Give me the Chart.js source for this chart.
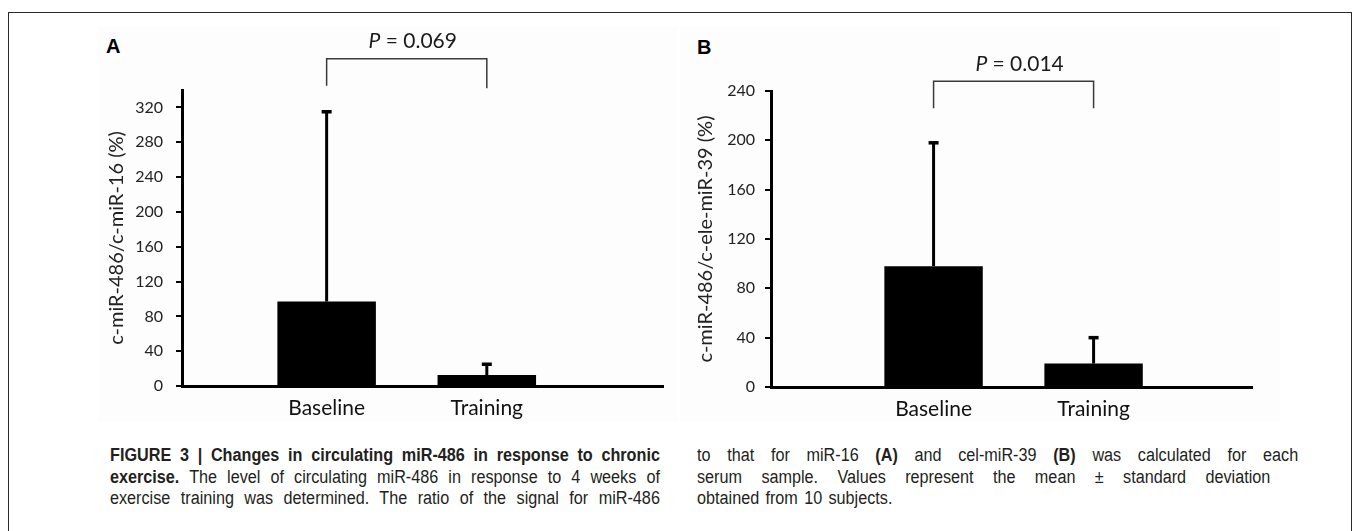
<!DOCTYPE html>
<html>
<head>
<meta charset="utf-8">
<script src="https://cdn.jsdelivr.net/npm/chart.js@4.4.0/dist/chart.umd.min.js"></script>
<style>
html,body{margin:0;padding:0;background:#fff;width:1355px;height:531px;overflow:hidden;}
#frame{position:absolute;left:8px;top:12px;width:1344px;height:600px;border:1.5px solid #2a2a2a;box-sizing:border-box;}
.panel{position:absolute;background:#fdfdfd;}
.plab{position:absolute;font:bold 20px "Liberation Sans",Arial,sans-serif;color:#000;line-height:20px;}
.cap{position:absolute;font:18px "Liberation Sans",Arial,sans-serif;color:#231f20;line-height:21.5px;transform:scaleX(0.9);transform-origin:0 0;}
.cap .j{text-align:justify;text-align-last:justify;}
.cap b{font-weight:bold;}
canvas{position:absolute;}
</style>
</head>
<body>
<div id="frame"></div>
<div class="panel" style="left:98px;top:27px;width:580px;height:395px;"></div>
<div class="panel" style="left:680px;top:27px;width:600px;height:395px;"></div>
<div class="plab" style="left:106px;top:36px;">A</div>
<div class="plab" style="left:697px;top:37px;">B</div>
<canvas id="chartA" width="580" height="405" style="left:98px;top:27px;width:580px;height:405px;"></canvas>
<canvas id="chartB" width="600" height="405" style="left:680px;top:27px;width:600px;height:405px;"></canvas>

<div class="cap" style="left:110px;top:445px;width:611px;">
  <div class="j"><b>FIGURE 3 | Changes in circulating miR-486 in response to chronic</b></div>
  <div class="j"><b>exercise.</b> The level of circulating miR-486 in response to 4 weeks of</div>
  <div class="j">exercise training was determined. The ratio of the signal for miR-486</div>
</div>
<div class="cap" style="left:697px;top:445px;width:668px;">
  <div class="j">to that for miR-16 <b>(A)</b> and cel-miR-39 <b>(B)</b> was calculated for each</div>
  <div class="j" style="width:637px;">serum sample. Values represent the mean &plusmn; standard deviation</div>
  <div style="word-spacing:2px;">obtained from 10 subjects.</div>
</div>

<script>
// ---- data ----
const categories = ['Baseline', 'Training'];
const meanA = [97, 12.5];
const sdA = [218, 12.5];
const meanB = [98, 19];
const sdB = [100, 21];
const yTicksA = [0, 40, 80, 120, 160, 200, 240, 280, 320];
const yTicksB = [0, 40, 80, 120, 160, 200, 240];
const yTitleA = 'c-miR-486/c-miR-16 (%)';
const yTitleB = 'c-miR-486/c-ele-miR-39 (%)';
const pValueA = '0.069';
const pValueB = '0.014';

const FONT = 'Lato, "Open Sans", sans-serif';

const errorBracketPlugin = {
  id: 'errorBracket',
  afterDatasetsDraw(chart, args, opts) {
    const ctx = chart.ctx;
    const ys = chart.scales.y;
    const meta = chart.getDatasetMeta(0);
    const sd = opts.sd;
    const mean = chart.data.datasets[0].data.map(d => d.y);
    ctx.save();
    ctx.strokeStyle = '#000';
    meta.data.forEach((bar, i) => {
      const top = ys.getPixelForValue(mean[i] + sd[i]);
      ctx.lineWidth = 3;
      ctx.beginPath();
      ctx.moveTo(bar.x, bar.y);
      ctx.lineTo(bar.x, top);
      ctx.stroke();
      ctx.lineWidth = 3.5;
      ctx.beginPath();
      ctx.moveTo(bar.x - 5, top);
      ctx.lineTo(bar.x + 5, top);
      ctx.stroke();
    });
    const x0 = meta.data[0].x, x1 = meta.data[1].x;
    const yt = ys.getPixelForValue(opts.bracketTop);
    ctx.strokeStyle = '#3a3a3a';
    ctx.lineWidth = 1.5;
    ctx.beginPath();
    ctx.moveTo(x0, ys.getPixelForValue(opts.legLeft));
    ctx.lineTo(x0, yt);
    ctx.lineTo(x1, yt);
    ctx.lineTo(x1, ys.getPixelForValue(opts.legRight));
    ctx.stroke();
    const ty = ys.getPixelForValue(opts.textValue);
    const cx = (x0 + x1) / 2 + opts.textShift;
    ctx.fillStyle = '#1a1a1a';
    ctx.textBaseline = 'middle';
    const pFont = 'italic 21px ' + FONT;
    const rFont = '21px ' + FONT;
    const rest = ' = ' + opts.p;
    ctx.font = pFont;
    const wP = ctx.measureText('P').width;
    ctx.font = rFont;
    const wR = ctx.measureText(rest).width;
    const sx = cx - (wP + wR) / 2;
    ctx.textAlign = 'left';
    ctx.font = pFont;
    ctx.fillText('P', sx, ty);
    ctx.font = rFont;
    ctx.fillText(rest, sx + wP, ty);
    ctx.restore();
  }
};

function makeChart(id, mean, sd, yTicks, yMax, yTitle, cfg) {
  return new Chart(document.getElementById(id), {
    type: 'bar',
    data: {
      datasets: [{
        data: mean.map((v, i) => ({ x: i, y: v })),
        backgroundColor: '#000',
        borderWidth: 0,
        barPercentage: 0.615,
        categoryPercentage: 1.0
      }]
    },
    options: {
      responsive: false,
      animation: false,
      events: [],
      layout: { padding: { left: 0, top: cfg.padTop, right: cfg.padRight, bottom: 0 } },
      plugins: {
        legend: { display: false },
        tooltip: { enabled: false },
        errorBracket: {
          sd: sd, bracketTop: cfg.bracketTop, legLeft: cfg.legLeft, legRight: cfg.legRight,
          textValue: cfg.textValue, textShift: cfg.textShift, p: cfg.p
        }
      },
      scales: {
        x: {
          type: 'linear',
          offset: false,
          bounds: 'data',
          grace: 0,
          min: cfg.xMin, max: cfg.xMax,
          afterBuildTicks: s => { s.ticks = categories.map((c, i) => ({ value: i })); },
          afterFit: s => { s.height = cfg.xHeight; },
          ticks: {
            autoSkip: false,
            maxRotation: 0,
            padding: 2,
            color: '#111',
            font: { family: FONT, size: 21 },
            callback: v => categories[v] ?? ''
          },
          grid: { display: false, offset: false },
          border: { display: true, color: '#000', width: 3 }
        },
        y: {
          min: 0, max: yMax,
          afterBuildTicks: s => { s.ticks = yTicks.map(v => ({ value: v })); },
          afterFit: s => { s.width = cfg.yWidth; },
          ticks: {
            padding: cfg.tickPad,
            color: '#222',
            font: { family: FONT, size: 16 }
          },
          grid: { display: true, drawOnChartArea: false, drawTicks: true, tickLength: 6, lineWidth: 2, color: '#000' },
          border: { display: true, color: '#000', width: 3 },
          title: {
            display: true, text: yTitle, color: '#222',
            font: { family: FONT, size: 20 },
            padding: { top: cfg.titlePad, bottom: 0 }
          }
        }
      }
    },
    plugins: [errorBracketPlugin]
  });
}

makeChart('chartA', meanA, sdA, yTicksA, 340, yTitleA, {
  padTop: 63, padRight: 15, xHeight: 46, yWidth: 84, tickPad: 13, titlePad: 7,
  xMin: -0.903, xMax: 2.1,
  bracketTop: 376, legLeft: 345, legRight: 342, textValue: 396, textShift: 6, p: pValueA
});
makeChart('chartB', meanB, sdB, yTicksB, 240, yTitleB, {
  padTop: 64, padRight: 28, xHeight: 45, yWidth: 91, tickPad: 10, titlePad: 14,
  xMin: -1.016, xMax: 1.99,
  bracketTop: 248, legLeft: 226, legRight: 226, textValue: 262, textShift: 6, p: pValueB
});
</script>
</body>
</html>
